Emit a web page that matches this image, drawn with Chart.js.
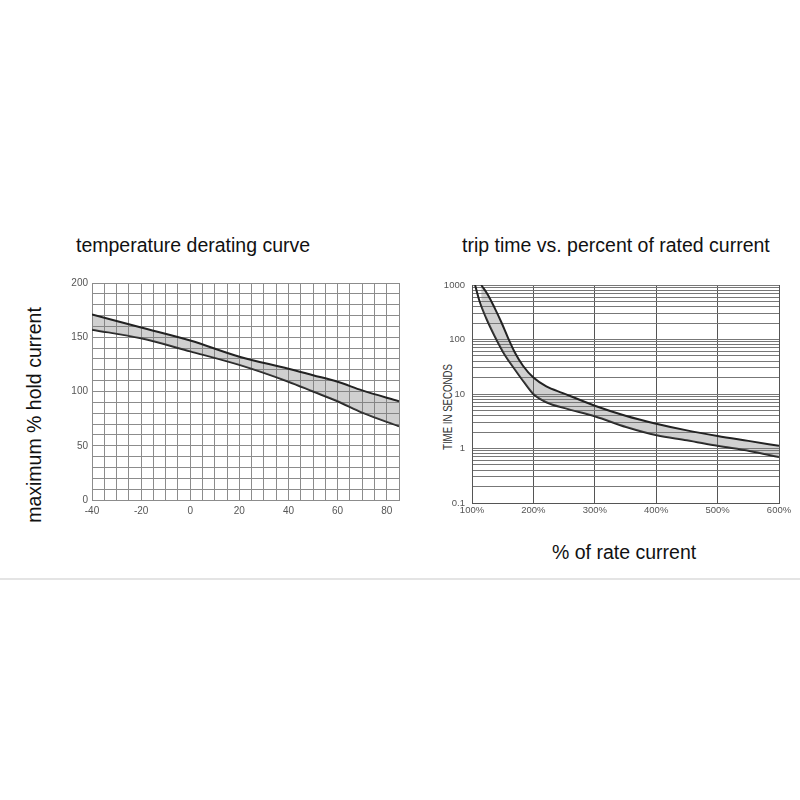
<!DOCTYPE html>
<html lang="en">
<head>
  <meta charset="UTF-8" />
  <title>PTC derating and trip time</title>
  <script src="https://cdn.jsdelivr.net/npm/chart.js"></script>
  <style>
    body {
      margin: 0;
      width: 800px;
      height: 800px;
      background: #ffffff;
      font-family: 'Liberation Sans', Arial, sans-serif;
      color: #111;
      position: relative;
      overflow: hidden;
    }

    canvas {
      position: absolute;
    }

    .title {
      position: absolute;
      font-size: 19.5px;
      line-height: 20px;
      white-space: nowrap;
    }

    .rot {
      position: absolute;
      white-space: nowrap;
      transform: translate(-50%, -50%) rotate(-90deg);
    }

    .narrow {
      position: absolute;
      white-space: nowrap;
      font-size: 13px;
      line-height: 13px;
      color: #333;
      transform: translate(-50%, -50%) rotate(-90deg) scaleX(0.744);
    }

    .rule {
      position: absolute;
      left: 0;
      top: 578px;
      width: 800px;
      height: 2px;
      background: #e4e4e4;
    }
  </style>
</head>
<body>
  <div class="title" style="left:76px; top:235px;">temperature derating curve</div>
  <div class="title" style="left:462px; top:235px;">trip time vs. percent of rated current</div>
  <div class="title rot" style="left:34px; top:415px;">maximum % hold current</div>
  <div class="narrow" style="left:447px; top:407px;">TIME IN SECONDS</div>
  <div class="title" style="left:552px; top:542px;">% of rate current</div>

  <canvas id="deratingChart" width="390" height="260" style="left:20px; top:270px;"></canvas>
  <canvas id="tripChart" width="370" height="260" style="left:430px; top:270px;"></canvas>

  <div class="rule"></div>

  <script>
    // --- temperature derating (left)
    const tempX = [-40, -20, 0, 20, 40, 50, 60, 70, 85];
    const holdUpper = [171, 159, 147, 132, 121, 115, 109, 101, 91];
    const holdLower = [157, 149, 137, 124.5, 109, 100, 91, 80.5, 68];
    const tempTicks = [-40, -20, 0, 20, 40, 60, 80];
    const holdTicks = [0, 50, 100, 150, 200];

    // --- trip time (right)
    const upperCurrent = [115, 126, 137, 148, 159, 170, 183, 200, 221, 248, 300, 350, 400, 450, 500, 550, 600];
    const tripUpper = [1000, 658, 377, 205, 105, 57, 33, 20, 13.8, 10.4, 6.1, 4.0, 2.85, 2.15, 1.7, 1.38, 1.12];
    const lowerCurrent = [105, 112.5, 123, 137, 153, 169.5, 186, 200, 221, 251, 301, 351, 401, 450, 500, 552, 600];
    const tripLower = [1000, 497, 248, 115, 53, 28.5, 15.8, 10, 7.05, 5.5, 3.87, 2.48, 1.75, 1.42, 1.12, 0.9, 0.7];
    const tripTicks = [0.1, 1, 10, 100, 1000];
    const tripDecades = [0.1, 1, 10, 100];
    const tripSteps = [1, 2, 3, 4, 5, 6, 7, 8, 9];
    const currentTicks = [100, 200, 300, 400, 500, 600];

    const tripGrid = tripDecades
      .flatMap(d => tripSteps.map(s => +(d * s).toPrecision(3)))
      .concat([1000]);

    Chart.defaults.font.family = "'Liberation Sans', Arial, sans-serif";
    Chart.defaults.color = '#555';

    const lineColor = '#222';
    const bandColor = 'rgba(120,120,120,0.35)';

    const pts = (xs, ys) => xs.map((x, i) => ({ x: x, y: ys[i] }));

    // left chart
    new Chart(document.getElementById('deratingChart'), {
      type: 'line',
      data: {
        datasets: [
          {
            data: pts(tempX, holdUpper),
            borderColor: lineColor,
            borderWidth: 2,
            backgroundColor: bandColor,
            fill: '+1',
            pointRadius: 0,
            cubicInterpolationMode: 'monotone'
          },
          {
            data: pts(tempX, holdLower),
            borderColor: lineColor,
            borderWidth: 2,
            fill: false,
            pointRadius: 0,
            cubicInterpolationMode: 'monotone'
          }
        ]
      },
      options: {
        responsive: false,
        animation: false,
        devicePixelRatio: 1,
        layout: { padding: { left: 0, top: 13, right: 11, bottom: 0 } },
        plugins: { legend: { display: false }, tooltip: { enabled: false } },
        scales: {
          x: {
            type: 'linear',
            min: -40,
            max: 85,
            afterFit: s => { s.height = 30; },
            grid: { color: '#8c8c8c', drawTicks: false },
            border: { color: '#8c8c8c' },
            ticks: {
              stepSize: 5,
              autoSkip: false,
              maxRotation: 0,
              padding: 5,
              font: { size: 10 },
              callback: v => tempTicks.includes(v) ? String(v) : ''
            }
          },
          y: {
            min: 0,
            max: 200,
            afterFit: s => { s.width = 72; },
            grid: { color: '#8c8c8c', drawTicks: false },
            border: { color: '#8c8c8c' },
            ticks: {
              stepSize: 10,
              autoSkip: false,
              padding: 4,
              font: { size: 10 },
              callback: v => holdTicks.includes(v) ? String(v) : ''
            }
          }
        }
      }
    });

    // right chart
    new Chart(document.getElementById('tripChart'), {
      type: 'line',
      data: {
        datasets: [
          {
            data: pts(upperCurrent, tripUpper),
            borderColor: lineColor,
            borderWidth: 2,
            backgroundColor: bandColor,
            fill: '+1',
            pointRadius: 0,
            cubicInterpolationMode: 'monotone'
          },
          {
            data: pts(lowerCurrent, tripLower),
            borderColor: lineColor,
            borderWidth: 2,
            fill: false,
            pointRadius: 0,
            cubicInterpolationMode: 'monotone'
          }
        ]
      },
      options: {
        responsive: false,
        animation: false,
        devicePixelRatio: 1,
        layout: { padding: { left: 0, top: 15, right: 21, bottom: 0 } },
        plugins: { legend: { display: false }, tooltip: { enabled: false } },
        scales: {
          x: {
            type: 'linear',
            min: 100,
            max: 600,
            afterFit: s => { s.height = 27; },
            grid: { color: '#555', drawTicks: false },
            border: { color: '#555' },
            ticks: {
              stepSize: 100,
              autoSkip: false,
              maxRotation: 0,
              padding: 2,
              font: { size: 9.5 },
              callback: v => currentTicks.includes(v) ? v + '%' : ''
            }
          },
          y: {
            type: 'logarithmic',
            min: 0.1,
            max: 1000,
            afterFit: s => { s.width = 42; },
            afterBuildTicks: s => { s.ticks = tripGrid.map(v => ({ value: v })); },
            grid: { color: '#777', drawTicks: false },
            border: { color: '#555' },
            ticks: {
              autoSkip: false,
              padding: 7,
              font: { size: 9.5 },
              callback: v => tripTicks.some(t => Math.abs(t - v) < 1e-9) ? String(v) : ''
            }
          }
        }
      }
    });
  </script>
</body>
</html>
